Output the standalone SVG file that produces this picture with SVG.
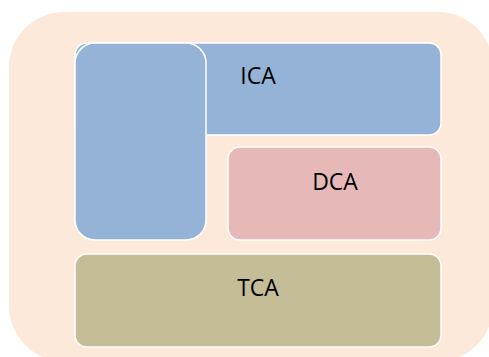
<svg xmlns="http://www.w3.org/2000/svg" width="489" height="357" viewBox="0 0 489 357">
  <style>
    .box { stroke: #ffffff; stroke-width: 1.5; }
    .lbl { font-family: "Open Sans", "Liberation Sans", sans-serif; font-size: 23px; fill: #000000; text-anchor: middle; }
  </style>
  <rect width="489" height="357" fill="#ffffff"/>
  <g id="background">
    <rect x="9" y="12" width="484" height="349" rx="55" ry="55" fill="#FDE9D9"/>
  </g>
  <g id="ICA">
    <rect class="box" x="75" y="43" width="366" height="92" rx="12" ry="12" fill="#95B3D7"/>
    <rect class="box" x="75" y="43" width="131" height="197" rx="20" ry="20" fill="#95B3D7"/>
    <text class="lbl" x="258" y="84">ICA</text>
  </g>
  <g id="DCA">
    <rect class="box" x="228" y="147" width="213" height="93" rx="12" ry="12" fill="#E6B9B8"/>
    <text class="lbl" x="335" y="190">DCA</text>
  </g>
  <g id="TCA">
    <rect class="box" x="75" y="254" width="366" height="93" rx="12" ry="12" fill="#C4BD97"/>
    <text class="lbl" x="258" y="296">TCA</text>
  </g>
  <g id="connectors"/>
</svg>
